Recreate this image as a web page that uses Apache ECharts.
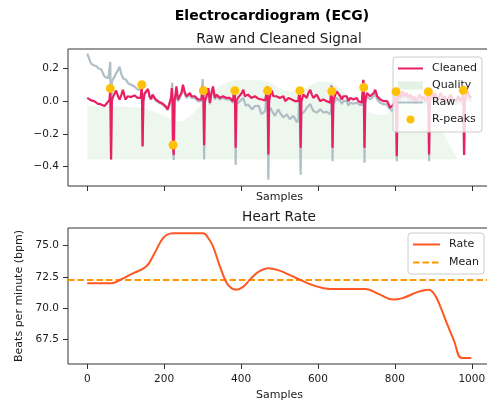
<!DOCTYPE html>
<html>
<head>
<meta charset="utf-8">
<script src="https://cdn.jsdelivr.net/npm/echarts@6/dist/echarts.min.js"></script>
<style>
  html, body { margin: 0; padding: 0; background: #fff; }
  #chart { width: 487px; height: 400px; }
</style>
</head>
<body>
<div id="chart"></div>
<script>
// tick values
const xTicks = [0, 200, 400, 600, 800, 1000]
const signalTicks = [-0.4, -0.2, 0.0, 0.2]
const rateTicks = [67.5, 70.0, 72.5, 75.0]

// R-peaks (sample index, cleaned value)
const peakSamples = [60, 142, 223, 302, 384, 469, 553, 636, 719, 803, 887, 978]
const peakValues = [0.078, 0.10, -0.268, 0.064, 0.064, 0.064, 0.064, 0.06, 0.084, 0.058, 0.058, 0.066]

// cleaned ECG, [sample, mV]
const cleanedSignal = [
  [0, 0.02], [5, 0.025], [10, 0.005], [18, 0.0], [27, -0.015], [36, -0.02], [45, -0.03], [52, -0.01], [56, 0.0],
  [58, 0.01], [60, 0.078], [62, -0.355], [64, 0.0], [66, 0.02],
  [70, 0.04], [75, 0.065], [80, 0.03], [84, 0.01], [89, 0.04], [93, 0.07], [97, 0.03], [100, 0.01], [105, 0.03],
  [110, 0.04], [114, 0.025], [118, 0.02], [123, 0.035], [127, 0.04], [131, 0.02], [136, 0.012], [139, 0.02],
  [142, 0.10], [144, -0.275], [146, 0.0], [149, 0.043],
  [153, 0.06], [158, 0.075], [162, 0.03], [166, 0.012], [170, 0.04], [174, 0.043], [178, 0.01], [183, 0.0],
  [187, -0.005], [191, -0.01], [196, -0.015], [200, -0.02], [205, -0.035], [209, -0.05], [213, -0.02], [218, 0.02],
  [220, 0.08], [222, 0.0], [223, -0.268], [225, -0.33], [227, 0.0], [230, 0.05],
  [232, 0.09], [236, 0.01], [240, 0.03], [245, 0.05], [249, 0.10], [253, 0.06], [258, 0.03], [262, 0.04],
  [267, 0.05], [271, 0.03], [275, 0.02], [280, 0.03], [284, 0.03], [288, 0.01], [292, 0.0], [297, 0.01], [299, 0.02],
  [300, 0.09], [302, 0.064], [304, -0.27], [306, 0.0],
  [310, 0.03], [315, 0.08], [319, -0.01], [323, 0.05], [327, 0.09], [332, 0.02], [336, 0.04], [340, 0.05],
  [345, 0.02], [349, 0.01], [353, 0.03], [358, 0.03], [362, 0.02], [366, 0.01], [371, 0.02], [375, 0.02], [379, 0.0], [382, 0.01],
  [383, 0.085], [384, 0.064], [386, -0.285], [388, 0.0],
  [392, 0.02], [397, 0.03], [402, 0.05], [406, 0.07], [410, 0.03], [414, 0.02], [418, 0.04], [423, 0.04],
  [427, 0.02], [432, 0.01], [436, 0.03], [440, 0.02], [445, 0.015], [449, 0.01], [454, 0.01], [458, 0.0], [463, 0.005], [466, 0.01],
  [468, 0.09], [469, 0.064], [471, -0.326], [473, 0.0],
  [477, 0.05], [480, 0.065], [484, 0.03], [488, 0.02], [492, 0.03], [497, 0.03], [501, 0.02], [506, 0.01],
  [510, 0.03], [515, 0.0], [519, 0.0], [523, 0.02], [527, 0.02], [532, 0.01], [536, 0.0], [541, 0.0], [545, -0.01], [549, 0.0],
  [552, 0.085], [553, 0.064], [555, -0.285], [557, 0.0],
  [562, 0.04], [566, 0.03], [571, 0.02], [575, 0.05], [580, 0.07], [584, 0.04], [588, 0.02], [592, 0.03],
  [597, 0.04], [601, 0.02], [606, 0.0], [610, 0.01], [614, 0.01], [619, 0.0], [623, 0.0], [628, -0.005], [632, -0.01], [634, 0.0],
  [635, 0.09], [636, 0.06], [638, -0.285], [640, 0.0],
  [645, 0.04], [649, 0.06], [653, 0.07], [658, 0.03], [662, 0.01], [666, 0.03], [671, 0.02], [675, 0.03],
  [679, 0.0], [684, 0.02], [688, 0.02], [692, 0.01], [697, 0.01], [701, 0.02], [705, 0.0], [710, 0.0], [714, -0.01], [717, 0.0],
  [718, 0.13], [719, 0.084], [721, -0.285], [723, 0.0],
  [727, 0.05], [731, 0.06], [736, 0.03], [740, 0.02], [745, 0.05], [749, 0.07], [754, 0.03], [758, 0.02],
  [762, 0.01], [766, 0.0], [771, 0.0], [775, -0.01], [780, 0.0], [784, -0.02], [788, -0.04], [793, -0.05], [797, -0.02], [801, 0.02],
  [802, 0.08], [803, 0.058], [805, -0.336], [807, 0.0],
  [811, 0.05], [815, 0.02], [820, 0.06], [825, 0.03], [830, 0.05], [835, 0.02], [840, 0.04], [845, 0.01],
  [850, 0.03], [855, 0.0], [860, 0.02], [865, 0.04], [870, 0.01], [875, 0.03], [880, 0.0], [884, 0.02],
  [886, 0.08], [887, 0.058], [889, -0.326], [891, 0.0],
  [895, 0.06], [900, 0.02], [905, 0.05], [910, 0.0], [915, 0.03], [920, 0.05], [925, 0.01], [930, 0.03],
  [935, 0.0], [940, 0.02], [945, 0.04], [950, 0.01], [955, 0.02], [960, 0.0], [965, 0.03], [970, 0.0], [975, 0.02],
  [977, 0.08], [978, 0.066], [980, -0.33], [982, 0.0],
  [986, 0.04], [990, 0.06], [995, 0.02], [999, 0.03]
]

// raw ECG, [sample, mV]
const rawSignal = [
  [0, 0.29], [5, 0.26], [10, 0.23], [16, 0.22], [23, 0.215], [30, 0.2], [36, 0.195], [41, 0.17], [45, 0.15], [50, 0.16], [55, 0.14],
  [58, 0.15], [60, 0.24], [62, -0.36], [64, 0.12], [67, 0.13],
  [71, 0.15], [75, 0.17], [80, 0.19], [84, 0.21], [88, 0.17], [93, 0.14], [97, 0.13], [101, 0.13], [106, 0.11],
  [110, 0.12], [114, 0.10], [118, 0.095], [123, 0.09], [127, 0.09], [132, 0.07], [136, 0.065], [140, 0.07],
  [142, 0.115], [144, -0.28], [146, 0.03],
  [150, 0.05], [154, 0.06], [158, 0.07], [162, 0.03], [166, 0.01], [170, 0.035], [174, 0.04], [178, 0.005], [183, -0.005],
  [187, -0.01], [191, -0.015], [196, -0.02], [200, -0.025], [205, -0.04], [209, -0.055], [213, -0.03], [218, 0.01],
  [221, 0.113], [223, -0.268], [225, -0.36], [227, -0.01], [230, 0.04],
  [236, 0.0], [241, 0.02], [245, 0.04], [249, 0.09], [253, 0.05], [258, 0.02], [262, 0.03], [267, 0.04], [271, 0.02],
  [275, 0.01], [280, 0.02], [284, 0.02], [288, 0.0], [292, -0.01], [297, 0.0],
  [300, 0.135], [302, 0.06], [304, -0.357], [306, -0.01],
  [310, 0.02], [315, 0.07], [319, -0.02], [323, 0.04], [327, 0.08], [332, 0.01], [336, 0.03], [340, 0.04], [345, 0.01],
  [349, 0.0], [353, 0.02], [358, 0.02], [362, 0.01], [366, 0.0], [371, 0.01], [375, 0.01], [379, -0.01],
  [383, 0.08], [384, 0.06], [386, -0.39], [388, -0.02],
  [392, -0.01], [397, 0.0], [402, 0.01], [406, 0.02], [412, -0.028], [418, -0.02], [423, -0.03], [429, -0.049], [436, -0.03],
  [440, -0.04], [446, -0.028], [449, -0.05], [453, -0.08], [458, -0.07], [463, -0.06], [466, -0.05],
  [468, 0.08], [469, 0.06], [471, -0.48], [473, -0.06],
  [477, -0.04], [480, -0.059], [484, -0.07], [488, -0.09], [492, -0.07], [497, -0.05], [501, -0.07], [506, -0.08], [510, -0.10],
  [515, -0.11], [519, -0.08], [523, -0.09], [527, -0.11], [532, -0.1], [536, -0.09], [541, -0.11], [545, -0.13], [549, -0.11],
  [552, 0.06], [553, 0.05], [555, -0.45], [557, -0.08],
  [562, -0.08], [566, -0.06], [571, -0.04], [575, -0.03], [580, -0.018], [584, -0.04], [588, -0.06], [592, -0.05], [597, -0.07],
  [601, -0.06], [606, -0.05], [610, -0.06], [614, -0.07], [619, -0.06], [623, -0.065], [628, -0.07], [632, -0.08], [634, -0.06],
  [635, 0.1], [636, 0.06], [638, -0.367], [640, -0.02],
  [645, 0.0], [649, 0.02], [653, 0.023], [658, 0.0], [662, -0.018], [666, 0.0], [671, -0.01], [675, 0.0], [679, -0.028],
  [684, -0.01], [688, -0.005], [692, -0.015], [697, -0.02], [701, -0.01], [705, -0.02], [710, -0.025], [714, -0.03], [717, -0.02],
  [718, 0.13], [719, 0.084], [721, -0.377], [723, -0.02],
  [727, 0.03], [731, 0.023], [736, 0.01], [740, 0.0], [745, 0.03], [749, 0.05], [754, 0.01], [758, 0.0], [762, -0.01],
  [766, -0.02], [771, -0.02], [775, -0.03], [780, -0.02], [784, -0.04], [788, -0.05], [793, -0.06], [797, -0.04], [801, 0.0],
  [802, 0.07], [803, 0.058], [805, -0.367], [807, -0.02],
  [811, 0.03], [815, 0.0], [820, 0.04], [825, 0.01], [830, 0.03], [835, 0.0], [840, 0.02], [845, -0.01], [850, 0.01],
  [855, -0.02], [860, 0.0], [865, 0.02], [870, -0.01], [875, 0.01], [880, -0.02], [884, 0.0],
  [886, 0.07], [887, 0.058], [889, -0.367], [891, -0.02],
  [895, 0.04], [900, 0.0], [905, 0.03], [910, -0.02], [915, 0.01], [920, 0.03], [925, -0.01], [930, 0.01], [935, -0.02],
  [940, 0.0], [945, 0.02], [950, -0.01], [955, 0.0], [960, -0.02], [965, 0.01], [970, -0.02], [975, 0.0],
  [977, 0.07], [978, 0.066], [980, -0.33], [982, -0.02],
  [986, 0.02], [990, 0.04], [995, 0.0], [999, 0.01]
]

// signal quality, rescaled onto the cleaned signal range
const qualityFloor = -0.355
const qualityBand = [
  [0, -0.03], [50, -0.03], [100, -0.035], [140, -0.04], [170, -0.06], [200, -0.09], [225, -0.12], [240, -0.125],
  [260, -0.105], [285, -0.05], [310, 0.02], [335, 0.075], [360, 0.11], [390, 0.13], [430, 0.13], [470, 0.115],
  [500, 0.08], [530, 0.06], [560, 0.07], [590, 0.11], [620, 0.12], [650, 0.09], [680, 0.03], [710, -0.04],
  [740, -0.075], [770, -0.085], [790, -0.06], [810, 0.05], [830, 0.12], [850, 0.13], [870, 0.01], [900, -0.09],
  [930, -0.21], [955, -0.32], [970, -0.355], [999, -0.355]
]

// heart rate, [sample, bpm]
const heartRate = [
  [0, 72.0], [30, 72.0], [63, 72.0], [85, 72.25], [120, 72.8], [154, 73.35], [175, 74.4], [197, 75.6], [215, 75.97],
  [225, 76.0], [260, 76.0], [302, 76.0], [315, 75.6], [327, 74.95], [345, 73.35], [362, 72.05], [375, 71.6], [388, 71.48],
  [405, 71.7], [423, 72.28], [445, 72.9], [471, 73.2], [500, 73.0], [530, 72.6], [553, 72.28], [590, 71.8], [631, 71.54],
  [680, 71.54], [723, 71.54], [760, 71.1], [796, 70.68], [820, 70.8], [860, 71.3], [888, 71.48], [905, 71.0], [918, 70.14],
  [935, 68.8], [953, 67.46], [974, 66.0], [999, 66.0]
]
const meanRate = 72.26

const xMin = -50, xMax = 1050

const font = 'DejaVu Sans'
const ink = '#1a1a1a'
const minus = v => v.toFixed(1).replace('-', '\u2212')

const xAxisBase = (gridIndex, showLabels) => ({
  type: 'value', gridIndex, min: xMin, max: xMax,
  axisLine: { show: false, onZero: false },
  axisTick: { show: true, length: 5, customValues: xTicks, lineStyle: { color: '#333' } },
  axisLabel: { show: showLabels, customValues: xTicks, formatter: v => String(v), margin: 10, fontSize: 10.5, color: ink, fontFamily: font },
  splitLine: { show: false },
  name: 'Samples', nameLocation: 'middle', nameGap: showLabels ? 26 : 6,
  nameTextStyle: { fontSize: 11, color: ink, fontFamily: font, verticalAlign: 'top' }
})

const legendText = { fontSize: 11, color: ink, fontFamily: font, padding: [0, 0, 0, 4] }
const noMarker = { opacity: 0 }

const options = {
  animation: false,
  backgroundColor: '#fff',
  title: [
    { text: 'Electrocardiogram (ECG)', left: 272, top: 9, padding: 0, textAlign: 'center',
      textStyle: { fontSize: 14, fontWeight: 'bold', color: '#000', fontFamily: font } },
    { text: 'Raw and Cleaned Signal', left: 279, top: 32, padding: 0, textAlign: 'center',
      textStyle: { fontSize: 13.7, fontWeight: 'normal', color: ink, fontFamily: font } },
    { text: 'Heart Rate', left: 279, top: 210, padding: 0, textAlign: 'center',
      textStyle: { fontSize: 13.7, fontWeight: 'normal', color: ink, fontFamily: font } }
  ],
  legend: [
    {
      data: [
        { name: 'Cleaned', itemStyle: noMarker },
        { name: 'Quality', icon: 'rect' },
        { name: 'Raw', itemStyle: noMarker },
        { name: 'R-peaks', icon: 'circle' }
      ],
      orient: 'vertical', left: 393, top: 57, itemWidth: 25, itemHeight: 8, itemGap: 6,
      padding: [6, 5, 7, 4],
      backgroundColor: 'rgba(255,255,255,0.8)', borderColor: '#ccc', borderWidth: 1, borderRadius: 3,
      textStyle: legendText
    },
    {
      data: [{ name: 'Rate', itemStyle: noMarker }, { name: 'Mean', itemStyle: noMarker }],
      orient: 'vertical', left: 408, top: 233, itemWidth: 27, itemHeight: 8, itemGap: 7,
      padding: [6, 5, 6, 4],
      backgroundColor: 'rgba(255,255,255,0.8)', borderColor: '#ccc', borderWidth: 1, borderRadius: 3,
      textStyle: legendText
    }
  ],
  grid: [
    { left: 68, right: -4, top: 49, bottom: 214, show: true, borderColor: '#333', borderWidth: 1, outerBoundsMode: 'none' },
    { left: 68, right: -4, top: 228, bottom: 36, show: true, borderColor: '#333', borderWidth: 1, outerBoundsMode: 'none' }
  ],
  xAxis: [xAxisBase(0, false), xAxisBase(1, true)],
  yAxis: [
    {
      type: 'value', gridIndex: 0, min: -0.519, max: 0.319,
      axisLine: { show: false, onZero: false },
      axisTick: { show: true, length: 5, customValues: signalTicks, lineStyle: { color: '#333' } },
      axisLabel: { customValues: signalTicks, formatter: minus, margin: 9, fontSize: 10.5, color: ink, fontFamily: font },
      splitLine: { show: false }
    },
    {
      type: 'value', gridIndex: 1, min: 65.52, max: 76.42,
      axisLine: { show: false, onZero: false },
      axisTick: { show: true, length: 5, customValues: rateTicks, lineStyle: { color: '#333' } },
      axisLabel: { customValues: rateTicks, formatter: v => v.toFixed(1), margin: 9, fontSize: 10.5, color: ink, fontFamily: font },
      splitLine: { show: false },
      name: 'Beats per minute (bpm)', nameLocation: 'middle', nameGap: 41,
      nameTextStyle: { fontSize: 11, color: ink, fontFamily: font }
    }
  ],
  series: [
    {
      name: 'Quality', type: 'line', xAxisIndex: 0, yAxisIndex: 0, data: qualityBand,
      symbol: 'none', smooth: 0.4, lineStyle: { width: 0 },
      itemStyle: { color: '#e4f2e5' },
      areaStyle: { color: 'rgba(76,175,80,0.14)', origin: qualityFloor },
      z: 1
    },
    {
      name: 'Raw', type: 'line', xAxisIndex: 0, yAxisIndex: 0, data: rawSignal,
      symbol: 'none', lineStyle: { color: '#B0BEC5', width: 2.2 }, itemStyle: { color: '#B0BEC5' }, z: 2
    },
    {
      name: 'Cleaned', type: 'line', xAxisIndex: 0, yAxisIndex: 0, data: cleanedSignal,
      symbol: 'none', lineStyle: { color: '#E91E63', width: 2.2 }, itemStyle: { color: '#E91E63' }, z: 3
    },
    {
      name: 'R-peaks', type: 'scatter', xAxisIndex: 0, yAxisIndex: 0,
      data: peakSamples.map((s, i) => [s, peakValues[i]]),
      symbolSize: 9, itemStyle: { color: '#FFC107', opacity: 1 }, z: 4
    },
    {
      name: 'Rate', type: 'line', xAxisIndex: 1, yAxisIndex: 1, data: heartRate,
      symbol: 'none', smooth: 0.4,
      lineStyle: { color: '#FF5722', width: 2 }, itemStyle: { color: '#FF5722' }, z: 3
    },
    {
      name: 'Mean', type: 'line', xAxisIndex: 1, yAxisIndex: 1, data: [[xMin, meanRate], [xMax, meanRate]],
      symbol: 'none', lineStyle: { color: '#FF9800', width: 2, type: [6.5, 3] }, itemStyle: { color: '#FF9800' }, z: 2
    }
  ]
}

const chart = echarts.init(document.getElementById('chart'), null, { renderer: 'canvas' })
chart.setOption(options)
</script>
</body>
</html>
